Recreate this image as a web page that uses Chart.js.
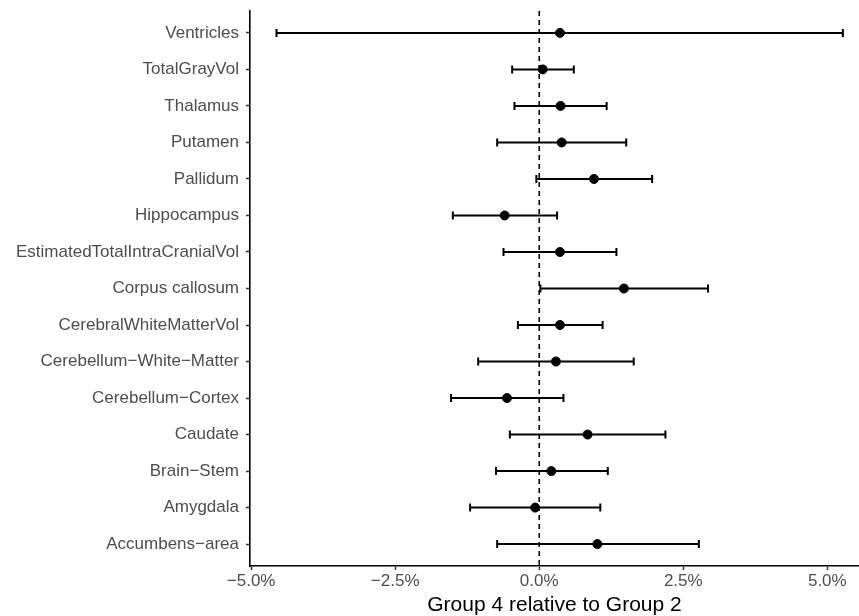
<!DOCTYPE html>
<html>
<head>
<meta charset="utf-8">
<script src="https://cdn.jsdelivr.net/npm/chart.js@4/dist/chart.umd.min.js"></script>
<style>
  html, body { margin: 0; padding: 0; background: #fff; }
  #wrap { width: 859px; height: 616px; }
</style>
</head>
<body>
<div id="wrap"><canvas id="forest"></canvas></div>
<script>
// regions, listed top to bottom as in the plot
var regions = ['Ventricles', 'TotalGrayVol', 'Thalamus', 'Putamen', 'Pallidum', 'Hippocampus',
  'EstimatedTotalIntraCranialVol', 'Corpus callosum', 'CerebralWhiteMatterVol',
  'Cerebellum\u2212White\u2212Matter', 'Cerebellum\u2212Cortex', 'Caudate',
  'Brain\u2212Stem', 'Amygdala', 'Accumbens\u2212area'];
// percent difference, group 4 vs group 2
var estimate = [0.36, 0.06, 0.37, 0.39, 0.95, -0.60, 0.36, 1.47, 0.36, 0.29, -0.56, 0.84, 0.21, -0.07, 1.01];
var lower    = [-4.56, -0.47, -0.43, -0.73, -0.05, -1.50, -0.62, 0.02, -0.37, -1.06, -1.53, -0.51, -0.75, -1.20, -0.73];
var upper    = [5.27, 0.60, 1.17, 1.51, 1.96, 0.31, 1.34, 2.93, 1.10, 1.64, 0.42, 2.19, 1.19, 1.06, 2.77];
var xTicks = [-5, -2.5, 0, 2.5, 5];

var n = regions.length;
var font = 'Liberation Sans, Arial, sans-serif';
function rowY(i) { return n - 1 - i; }

var points = estimate.map(function(v, i) { return { x: v, y: rowY(i) }; });

var errorBars = {
    id: 'errorBars',
    beforeDatasetsDraw: function(chart) {
        var ctx = chart.ctx;
        var xs = chart.scales.x, ys = chart.scales.y;
        var area = chart.chartArea;
        ctx.save();
        // zero reference line
        ctx.strokeStyle = '#000';
        ctx.lineWidth = 1.6;
        ctx.setLineDash([5, 4]);
        var x0 = xs.getPixelForValue(0);
        ctx.beginPath();
        ctx.moveTo(x0, area.top);
        ctx.lineTo(x0, area.bottom);
        ctx.stroke();
        ctx.setLineDash([]);
        // intervals
        ctx.lineWidth = 2;
        for (var i = 0; i < n; i++) {
            var y = ys.getPixelForValue(rowY(i));
            var a = xs.getPixelForValue(lower[i]);
            var b = xs.getPixelForValue(upper[i]);
            ctx.beginPath();
            ctx.moveTo(a, y); ctx.lineTo(b, y);
            ctx.moveTo(a, y - 4); ctx.lineTo(a, y + 4);
            ctx.moveTo(b, y - 4); ctx.lineTo(b, y + 4);
            ctx.stroke();
        }
        ctx.restore();
    }
};

var ctx = document.getElementById('forest').getContext('2d');
var chart = new Chart(ctx, {
    type: 'scatter',
    data: {
        datasets: [{
            data: points,
            backgroundColor: '#000',
            borderColor: '#000',
            pointRadius: 4.5,
            pointHoverRadius: 4.5
        }]
    },
    options: {
        responsive: true,
        maintainAspectRatio: false,
        animation: false,
        layout: { autoPadding: false, padding: { top: 11, right: 0, left: 0, bottom: 0 } },
        plugins: { legend: { display: false }, tooltip: { enabled: false } },
        scales: {
            x: {
                type: 'linear',
                min: -5.02,
                max: 5.55,
                afterBuildTicks: function(scale) {
                    scale.ticks = xTicks.map(function(v) { return { value: v }; });
                },
                afterFit: function(scale) {
                    scale.height = 50;
                    scale.paddingLeft = 0;
                    scale.paddingRight = 0;
                },
                grid: { drawOnChartArea: false, drawTicks: true, tickLength: 4, tickColor: '#333', tickWidth: 1.5 },
                border: { display: true, color: '#000', width: 1.6 },
                ticks: {
                    padding: 1,
                    color: '#4d4d4d',
                    font: { family: font, size: 17 },
                    callback: function(v) {
                        var s = Math.abs(v).toFixed(1) + '%';
                        return v < 0 ? '\u2212' + s : s;
                    }
                },
                title: {
                    display: true,
                    text: 'Group 4 relative to Group 2',
                    color: '#000',
                    font: { family: font, size: 21 },
                    padding: { top: 0, bottom: -2 }
                }
            },
            y: {
                type: 'linear',
                min: -0.6,
                max: n - 0.4,
                afterBuildTicks: function(scale) {
                    var t = [];
                    for (var k = 0; k < n; k++) t.push({ value: k });
                    scale.ticks = t;
                },
                afterFit: function(scale) {
                    scale.width = 250;
                    scale.paddingTop = 0;
                    scale.paddingBottom = 0;
                },
                grid: { drawOnChartArea: false, drawTicks: true, tickLength: 4, tickColor: '#333', tickWidth: 1.5 },
                border: { display: true, color: '#000', width: 1.6 },
                ticks: {
                    padding: 7,
                    color: '#4d4d4d',
                    font: { family: font, size: 17 },
                    callback: function(v) { return regions[n - 1 - v]; }
                }
            }
        }
    },
    plugins: [errorBars]
});
</script>
</body>
</html>
